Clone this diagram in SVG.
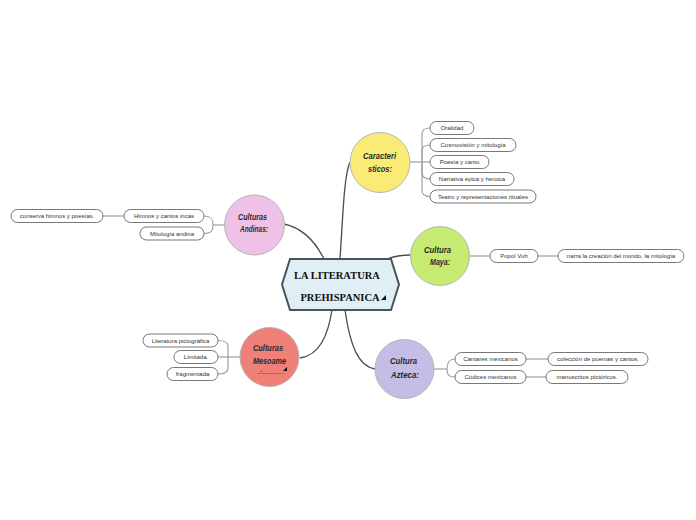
<svg xmlns="http://www.w3.org/2000/svg" width="696" height="520" viewBox="0 0 696 520">
<style>
.bg{fill:#ffffff}
.main{fill:none;stroke:#4a4a4a;stroke-width:1.3}
.sub{fill:none;stroke:#a0a0a0;stroke-width:1.2}
.pill{fill:#ffffff;stroke:#555555;stroke-width:0.8}
.pt{font-family:"Liberation Sans",Arial,sans-serif;font-size:6px;fill:#333333;text-anchor:middle}
.circ{stroke:#b5b5b5;stroke-width:1}
.ct{font-family:"Liberation Sans",Arial,sans-serif;font-style:italic;font-weight:bold;font-size:9px;fill:#2a2a2a}
.ht{font-family:"Liberation Serif","Times New Roman",serif;font-weight:bold;font-size:10.5px;fill:#111111;text-anchor:middle}
.tri{fill:#111111}
</style>
<defs>
<clipPath id="clipMeso"><rect x="240" y="365" width="60" height="8.6"/></clipPath>
</defs>
<rect class="bg" x="0" y="0" width="696" height="520"/>
<g id="connectors">
<path class="main" d="M340,259 C343,215 344,175 350,162"/>
<path class="main" d="M387,259 C395,256 400,255 410,255"/>
<path class="main" d="M345,310 C350,345 358,366 375,369"/>
<path class="main" d="M332,310 C328,335 320,355 300,358"/>
<path class="main" d="M284,224 C303,228 316,243 324,259"/>
<path class="sub" d="M410,162 H422"/>
<path class="sub" d="M422,162 V134 Q422,128 430,128"/>
<path class="sub" d="M422,162 V151 Q422,145 430,145"/>
<path class="sub" d="M422,162 H430"/>
<path class="sub" d="M422,162 V173 Q422,179 430,179"/>
<path class="sub" d="M422,162 V190 Q422,196.5 430,196.5"/>
<path class="sub" d="M469,256 H490"/>
<path class="sub" d="M538,256 H558"/>
<path class="sub" d="M434,369 H447"/>
<path class="sub" d="M447,369 C447,362 450,359 455,359"/>
<path class="sub" d="M447,369 C447,376 450,377 455,377"/>
<path class="sub" d="M526,359 H548"/>
<path class="sub" d="M526,377 H546"/>
<path class="sub" d="M240,357 H228"/>
<path class="sub" d="M228,357 V346.5 Q228,340.5 218,340.5"/>
<path class="sub" d="M228,357 H218"/>
<path class="sub" d="M228,357 V368 Q228,374 218,374"/>
<path class="sub" d="M224,225 H213"/>
<path class="sub" d="M213,225 C213,218 210,216 204,216"/>
<path class="sub" d="M213,225 C213,232 210,233.5 204,233.5"/>
<path class="sub" d="M103,216 H124"/>
</g>
<g id="central">
<polygon points="282,284.5 290,259 391,259 399,284.5 391,310 290,310" fill="#e0eef5" stroke="#4a525a" stroke-width="2"/>
<text class="ht" x="337" y="279">LA LITERATURA</text>
<text class="ht" x="340" y="301">PREHISPANICA</text>
<polygon class="tri" points="386,295 386,300 381,300"/>
</g>
<g id="caracteristicos">
<circle class="circ" cx="380" cy="162.5" r="30" fill="#f9eb76"/>
<text class="ct" x="363" y="159" textLength="33" lengthAdjust="spacingAndGlyphs">Caracteri</text>
<text class="ct" x="368" y="172" textLength="24" lengthAdjust="spacingAndGlyphs">sticos:</text>
</g>
<g id="oralidad"><rect class="pill" x="430" y="121.5" width="44" height="13" rx="6.5"/><text class="pt" x="452" y="130.2">Oralidad</text></g>
<g id="cosmovision"><rect class="pill" x="430" y="138.5" width="86" height="13" rx="6.5"/><text class="pt" x="473" y="147.2">Cosmovisión y mitología</text></g>
<g id="poesia"><rect class="pill" x="430" y="155.5" width="59" height="13" rx="6.5"/><text class="pt" x="459.5" y="164.2">Poesía y canto</text></g>
<g id="narrativa"><rect class="pill" x="430" y="172.5" width="84" height="13" rx="6.5"/><text class="pt" x="472" y="181.2">Narrativa épica y heroica</text></g>
<g id="teatro"><rect class="pill" x="430" y="190" width="106" height="13" rx="6.5"/><text class="pt" x="483" y="198.7">Teatro y representaciones rituales</text></g>
<g id="maya">
<circle class="circ" cx="440" cy="256" r="29.5" fill="#c6eb70"/>
<text class="ct" x="424" y="253" textLength="27" lengthAdjust="spacingAndGlyphs">Cultura</text>
<text class="ct" x="430" y="265" textLength="20" lengthAdjust="spacingAndGlyphs">Maya:</text>
</g>
<g id="popolvuh"><rect class="pill" x="490" y="249.5" width="48" height="13" rx="6.5"/><text class="pt" x="514" y="258.2">Popol Vuh</text></g>
<g id="narra"><rect class="pill" x="558" y="249.5" width="126" height="13" rx="6.5"/><text class="pt" x="621" y="258.2">narra la creación del mundo, la mitología</text></g>
<g id="azteca">
<circle class="circ" cx="404.5" cy="369" r="29.5" fill="#c4bde6"/>
<text class="ct" x="390" y="364" textLength="27" lengthAdjust="spacingAndGlyphs">Cultura</text>
<text class="ct" x="391" y="378" textLength="28" lengthAdjust="spacingAndGlyphs">Azteca:</text>
</g>
<g id="cantares"><rect class="pill" x="455" y="352.5" width="71" height="13" rx="6.5"/><text class="pt" x="490.5" y="361.2">Cantares mexicanos</text></g>
<g id="codices"><rect class="pill" x="455" y="370.5" width="71" height="13" rx="6.5"/><text class="pt" x="490.5" y="379.2">Códices mexicanos</text></g>
<g id="coleccion"><rect class="pill" x="548" y="352.5" width="100" height="13" rx="6.5"/><text class="pt" x="598" y="361.2">colección de poemas y cantos.</text></g>
<g id="manuscritos"><rect class="pill" x="546" y="370.5" width="82" height="13" rx="6.5"/><text class="pt" x="587" y="379.2">manuscritos pictóricos.</text></g>
<g id="mesoamerica">
<circle class="circ" cx="269.5" cy="357" r="29.5" fill="#ee8078"/>
<text class="ct" x="253" y="351" textLength="30" lengthAdjust="spacingAndGlyphs">Culturas</text>
<text class="ct" x="253" y="364" textLength="33" lengthAdjust="spacingAndGlyphs">Mesoame</text>
<text class="ct" x="257" y="377.5" textLength="26" lengthAdjust="spacingAndGlyphs" clip-path="url(#clipMeso)">ricanas:</text>
<polygon class="tri" points="287,367 287,371 283,371"/>
</g>
<g id="literatura"><rect class="pill" x="143" y="334" width="75" height="13" rx="6.5"/><text class="pt" x="180.5" y="342.7">Literatura pictográfica</text></g>
<g id="limitada"><rect class="pill" x="174" y="350.5" width="44" height="13" rx="6.5"/><text class="pt" x="196" y="359.2">Limitada.</text></g>
<g id="fragmentada"><rect class="pill" x="167" y="367.5" width="51" height="13" rx="6.5"/><text class="pt" x="192.5" y="376.2">fragmentada</text></g>
<g id="andinas">
<circle class="circ" cx="254.5" cy="225" r="30" fill="#efc1e7"/>
<text class="ct" x="238" y="220" textLength="29" lengthAdjust="spacingAndGlyphs">Culturas</text>
<text class="ct" x="240" y="232" textLength="28" lengthAdjust="spacingAndGlyphs">Andinas:</text>
</g>
<g id="himnos"><rect class="pill" x="124" y="209.5" width="80" height="13" rx="6.5"/><text class="pt" x="164" y="218.2">Himnos y cantos incas</text></g>
<g id="mitologia"><rect class="pill" x="140" y="227" width="64" height="13" rx="6.5"/><text class="pt" x="172" y="235.7">Mitología andina</text></g>
<g id="conserva"><rect class="pill" x="11" y="209.5" width="92" height="13" rx="6.5"/><text class="pt" x="57" y="218.2">conserva himnos y poesías.</text></g>
</svg>
